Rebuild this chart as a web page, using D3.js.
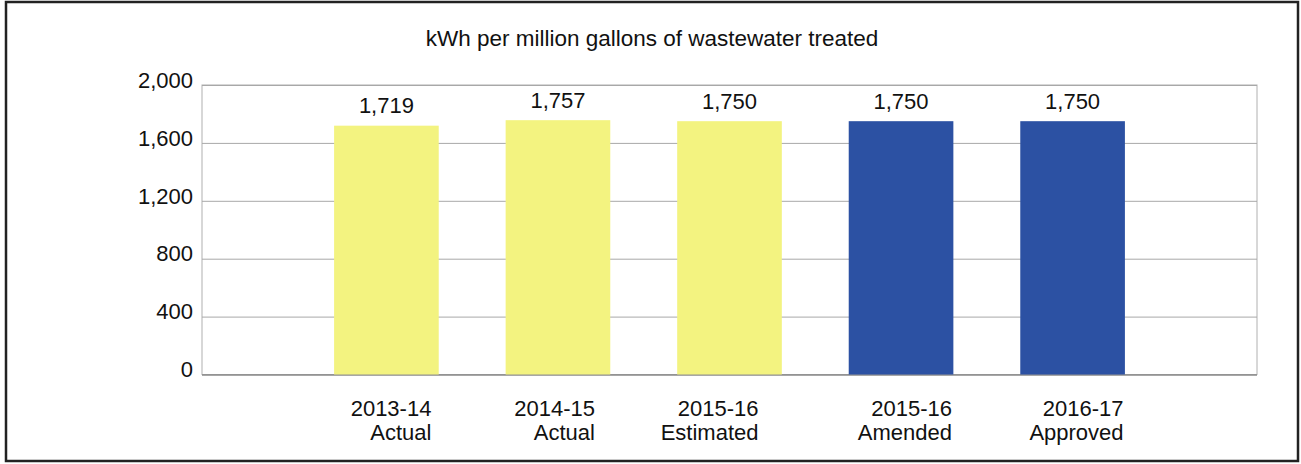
<!DOCTYPE html>
<html>
<head>
<meta charset="utf-8">
<script src="https://cdn.jsdelivr.net/npm/d3@7"></script>
<style>
  body { margin: 0; background: #fff; }
  text { font-family: "Liberation Sans", Arial, sans-serif; fill: #111; }
</style>
</head>
<body>
<div id="chart"></div>
<script>
var title = "kWh per million gallons of wastewater treated";
var years = ["2013-14", "2014-15", "2015-16", "2015-16", "2016-17"];
var kinds = ["Actual", "Actual", "Estimated", "Amended", "Approved"];
var values = [1719, 1757, 1750, 1750, 1750];
var yTicks = [0, 400, 800, 1200, 1600, 2000];
// how far right of the bar centre each two-line label ends (it's right-aligned in the source)
var labelShift = [45, 37, 29, 51, 51];

var width = 1301, height = 464;
var yellow = "#f3f380", blue = "#2c51a3";
var plot = { left: 202, right: 1257, top: 85, bottom: 374.5 };

var svg = d3.select("#chart").append("svg")
  .attr("width", width)
  .attr("height", height);

// outer frame
svg.append("rect")
  .attr("x", 6).attr("y", 2)
  .attr("width", 1292).attr("height", 459)
  .attr("fill", "#fff")
  .attr("stroke", "#222")
  .attr("stroke-width", 2.5);

svg.append("text")
  .attr("x", 652).attr("y", 46)
  .attr("text-anchor", "middle")
  .style("font-size", "22.5px")
  .text(title);

var idx = d3.range(values.length);

var x = d3.scaleBand()
  .domain(idx)
  .range([plot.left, plot.right])
  .paddingInner(0.39)
  .paddingOuter(0.77);

var y = d3.scaleLinear()
  .domain([0, 2000])
  .range([plot.bottom, plot.top]);

// plot box
svg.append("rect")
  .attr("x", plot.left).attr("y", plot.top)
  .attr("width", plot.right - plot.left)
  .attr("height", plot.bottom - plot.top)
  .attr("fill", "none")
  .attr("stroke", "#b0b0b0")
  .attr("stroke-width", 1);

// gridlines + tick labels
var yAxis = d3.axisLeft(y)
  .tickValues(yTicks)
  .tickSize(-(plot.right - plot.left))
  .tickPadding(9)
  .tickFormat(d3.format(","));

var gy = svg.append("g")
  .attr("transform", "translate(" + plot.left + ",0)")
  .call(yAxis);
gy.select(".domain").remove();
gy.selectAll(".tick line")
  .attr("stroke", function(d){ return d === 0 ? "#8a8a8a" : "#a8a8a8"; })
  .attr("stroke-width", function(d){ return d === 0 ? 1.5 : 1; });
gy.selectAll(".tick text")
  .attr("dy", "0.1em")
  .style("font-size", "22px")
  .style("font-family", "'Liberation Sans', Arial, sans-serif")
  .attr("fill", "#111");

// bars
svg.append("g")
  .selectAll("rect")
  .data(idx)
  .enter()
  .append("rect")
  .attr("x", function(i){ return x(i); })
  .attr("y", function(i){ return y(values[i]); })
  .attr("width", x.bandwidth())
  .attr("height", function(i){ return y(0) - y(values[i]); })
  .attr("fill", function(i){ return i < 3 ? yellow : blue; });

// value labels
svg.append("g")
  .selectAll("text")
  .data(idx)
  .enter()
  .append("text")
  .attr("x", function(i){ return x(i) + x.bandwidth() / 2; })
  .attr("y", function(i){ return y(values[i]) - 12.5; })
  .attr("text-anchor", "middle")
  .style("font-size", "22px")
  .text(function(i){ return d3.format(",")(values[i]); });

// category labels, two lines
var cats = svg.append("g")
  .selectAll("text")
  .data(idx)
  .enter()
  .append("text")
  .attr("text-anchor", "end")
  .style("font-size", "22px");
cats.append("tspan")
  .attr("x", function(i){ return x(i) + x.bandwidth() / 2 + labelShift[i]; })
  .attr("y", 416)
  .text(function(i){ return years[i]; });
cats.append("tspan")
  .attr("x", function(i){ return x(i) + x.bandwidth() / 2 + labelShift[i]; })
  .attr("y", 440)
  .text(function(i){ return kinds[i]; });
</script>
</body>
</html>
